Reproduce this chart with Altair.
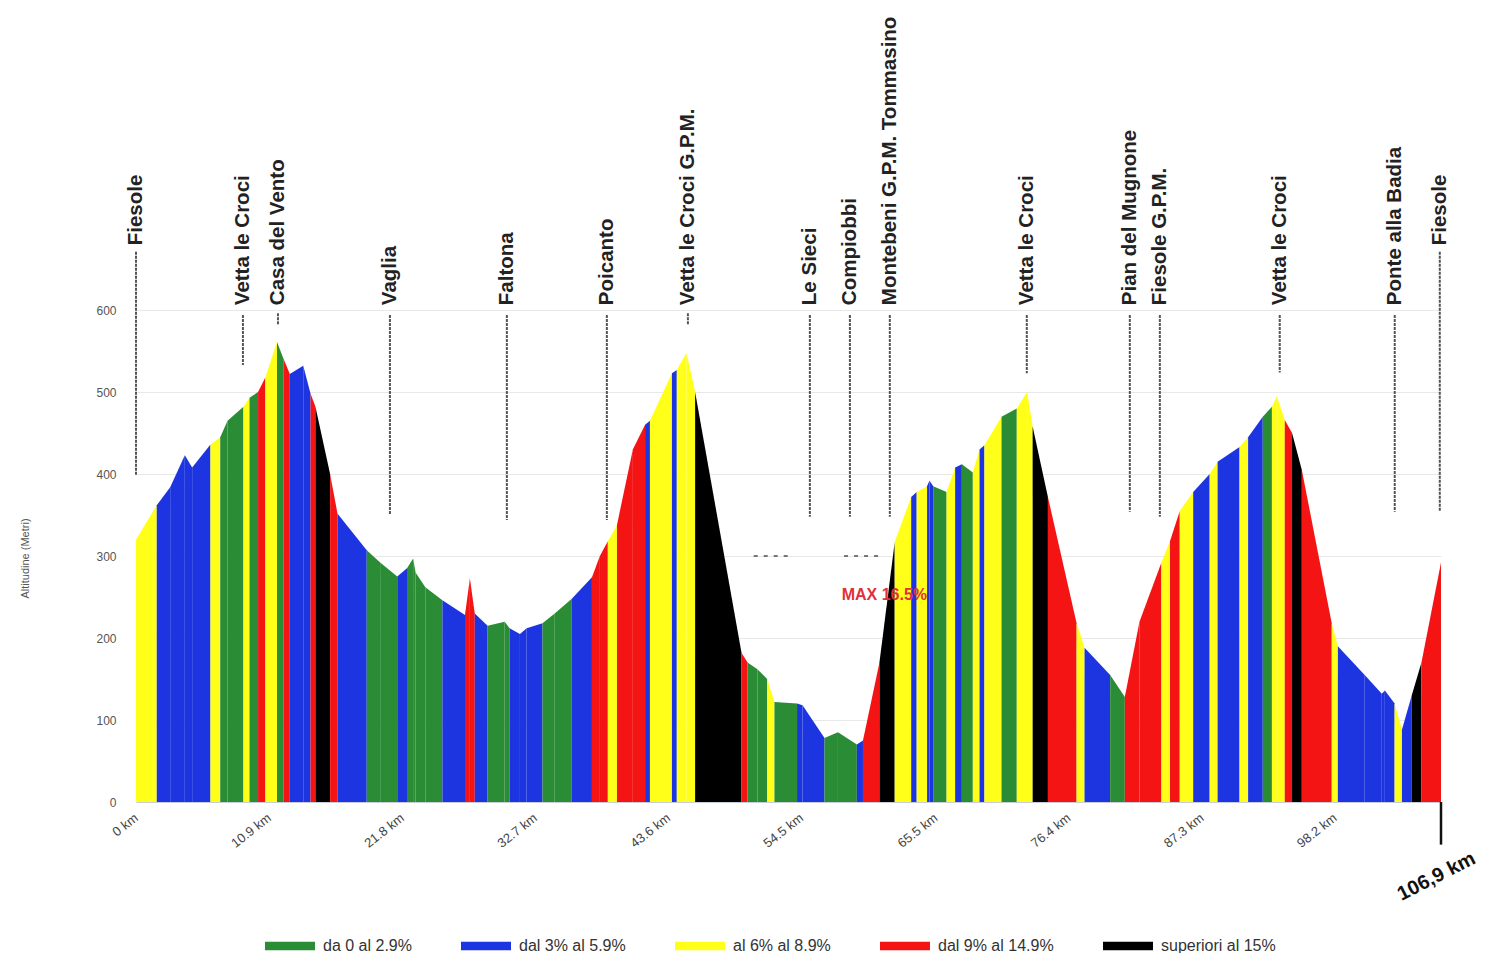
import altair as alt
import pandas as pd

# ---------------- data ----------------
# profile breakpoints (km, altitude m) and gradient class of the stretch that starts there
km = [0.0, 1.7, 2.8, 4.0, 4.6, 6.1, 6.9, 7.5, 8.8, 9.3, 10.0, 10.6, 11.55, 12.1, 12.6, 13.7,
      14.3, 14.7, 15.9, 16.5, 18.9, 20.0, 21.4, 22.2, 22.7, 22.9, 23.7, 25.1, 26.95, 27.35,
      27.75, 28.8, 30.2, 30.6, 31.45, 32.0, 33.3, 34.3, 35.7, 37.35, 38.0, 38.65, 39.4, 40.7,
      41.7, 42.1, 43.9, 44.3, 45.1, 45.8, 49.6, 50.1, 50.9, 51.7, 52.3, 54.15, 54.6, 56.4,
      57.5, 59.05, 59.55, 60.9, 62.15, 63.5, 63.95, 64.8, 65.0, 65.3, 66.4, 67.1, 67.65,
      68.55, 69.1, 69.5, 70.9, 72.15, 73.0, 73.45, 74.7, 77.05, 77.7, 79.8, 81.0, 82.2, 84.0,
      84.7, 85.5, 86.6, 87.95, 88.6, 90.4, 91.1, 92.3, 93.05, 93.45, 94.1, 94.7, 95.5, 97.95,
      98.45, 100.65, 102.05, 102.3, 103.1, 103.7, 104.5, 105.3, 106.9]
altitude = [320, 362, 384, 423, 408, 436, 445, 465, 482, 493, 500, 518, 561, 540, 522, 532,
            498, 482, 400, 352, 307, 292, 275, 285, 297, 280, 262, 246, 228, 273,
            230, 215, 220, 212, 205, 212, 218, 230, 248, 274, 300, 318, 338, 430,
            460, 465, 523, 527, 548, 500, 182, 170, 162, 150, 122, 120, 118, 78,
            85, 70, 75, 170, 317, 372, 378, 385, 392, 385, 378, 408, 412,
            402, 430, 435, 470, 480, 500, 458, 372, 218, 188, 155, 128, 220, 292,
            318, 355, 378, 400, 415, 433, 445, 470, 482, 495, 466, 450, 405, 218,
            190, 155, 132, 136, 120, 88, 130, 170, 292]
grade = ["Y", "B", "B", "B", "B", "Y", "G", "G", "Y", "G", "R", "Y", "G", "R", "B", "B",
         "R", "K", "R", "B", "G", "G", "B", "G", "G", "G", "G", "B", "R", "R",
         "B", "G", "G", "B", "B", "B", "G", "G", "B", "R", "R", "Y", "R", "R",
         "B", "Y", "B", "Y", "Y", "K", "R", "G", "G", "Y", "G", "B", "B", "G",
         "G", "B", "R", "K", "Y", "B", "Y", "B", "B", "G", "Y", "B", "G",
         "Y", "B", "Y", "G", "Y", "Y", "K", "R", "Y", "B", "G", "R", "R", "Y",
         "R", "Y", "B", "Y", "B", "Y", "B", "G", "Y", "Y", "R", "K", "R", "Y",
         "B", "B", "B", "B", "Y", "B", "K", "R"]

grade_codes = ["G", "B", "Y", "R", "K"]
grade_labels = ["da 0 al 2.9%", "dal 3% al 5.9%", "al 6% al 8.9%", "dal 9% al 14.9%", "superiori al 15%"]
grade_colors = ["#2a8c34", "#1c35e0", "#ffff1a", "#f51414", "#000000"]

# places along the route
place_names = ["Fiesole", "Vetta le Croci", "Casa del Vento", "Vaglia", "Faltona", "Poicanto",
               "Vetta le Croci G.P.M.", "Le Sieci", "Compiobbi", "Montebeni G.P.M. Tommasino",
               "Vetta le Croci", "Pian del Mugnone", "Fiesole G.P.M.", "Vetta le Croci",
               "Ponte alla Badia", "Fiesole"]
place_km = [0.0, 8.76, 11.63, 20.8, 30.38, 38.57, 45.21, 55.2, 58.48, 61.75, 72.97, 81.41,
            83.87, 93.69, 103.11, 106.8]
place_text_alt = [679, 606, 606, 606, 606, 606, 606, 606, 606, 606, 606, 606, 606, 606, 606, 679]
place_line_top = [671, 594, 596, 594, 594, 594, 596, 594, 594, 594, 594, 594, 594, 594, 594, 671]
place_line_bottom = [399, 533, 582, 350, 344, 344, 582, 348, 348, 348, 523, 354, 348, 524, 354, 354]

x_tick_values = [0, 10.9, 21.8, 32.7, 43.6, 54.5, 65.5, 76.4, 87.3, 98.2]
y_tick_values = [0, 100, 200, 300, 400, 500, 600]

total_km = [106.9]
total_label = ["106,9 km"]
max_label = ["MAX 16.5%"]
max_km = [61.3]
max_alt = [252]
dash_start = [50.6, 58.0]
dash_end = [53.6, 61.0]
dash_alt = [300, 300]

# ---------------- tables ----------------
rows = []
for i, g in enumerate(grade):
    lab = grade_labels[grade_codes.index(g)]
    rows.append({"seg": i, "km": km[i], "alt": altitude[i], "classe": lab})
    rows.append({"seg": i, "km": km[i + 1], "alt": altitude[i + 1], "classe": lab})
profile = pd.DataFrame(rows)

places = pd.DataFrame({"name": place_names, "km": place_km, "talt": place_text_alt,
                       "ltop": place_line_top, "lbot": place_line_bottom})
total = pd.DataFrame({"km": total_km, "label": total_label, "y0": [0], "y1": [-52], "ty": [-88]})
maxdf = pd.DataFrame({"km": max_km, "alt": max_alt, "label": max_label})
dashdf = pd.DataFrame({"x0": dash_start, "x1": dash_end, "alt": dash_alt})

FONT = "Liberation Sans"
xscale = alt.Scale(domain=[0, 106.9], nice=False, zero=False)
yscale = alt.Scale(domain=[0, 966], nice=False)

area = alt.Chart(profile).mark_area(interpolate="linear").encode(
    x=alt.X("km:Q", scale=xscale, title=None,
            axis=alt.Axis(values=x_tick_values, format=".1~f", labelExpr="datum.label + ' km'",
                          labelAngle=322, labelAlign="right", labelBaseline="middle",
                          labelPadding=14, labelFontSize=13, labelColor="#444", labelFont=FONT,
                          ticks=False, grid=False, domainColor="#c8ccd8", labelOverlap=False)),
    y=alt.Y("alt:Q", scale=yscale, stack=None, title="Altitudine (Metri)",
            axis=alt.Axis(values=y_tick_values, ticks=False, domain=False, grid=True,
                          gridColor="#e8e8e8", labelPadding=20, labelFontSize=12,
                          labelColor="#555", labelFont=FONT, titleFont=FONT,
                          titleFontSize=11, titleFontWeight="normal", titleColor="#555",
                          titleX=-111, titleY=548, titleAngle=270, titleAlign="center",
                          titleBaseline="middle")),
    color=alt.Color("classe:N", scale=alt.Scale(domain=grade_labels, range=grade_colors),
                    legend=alt.Legend(orient="none", legendX=129, legendY=911,
                                      direction="horizontal", columns=5, title=None,
                                      symbolType="M-1,-0.17L1,-0.17L1,0.17L-1,0.17Z",
                                      symbolSize=2500, symbolStrokeWidth=0, symbolOpacity=1,
                                      labelFontSize=16, labelColor="#333", labelFont=FONT,
                                      labelOffset=8, columnPadding=49, labelLimit=300)),
    detail="seg:N",
)

lines = alt.Chart(places).mark_rule(color="#555", strokeWidth=2, strokeDash=[3, 1]).encode(
    x="km:Q", y="ltop:Q", y2="lbot:Q")

texts = alt.Chart(places).mark_text(angle=270, align="left", baseline="middle", fontSize=20.5,
                                    fontWeight="bold", font=FONT, color="#222").encode(
    x="km:Q", y="talt:Q", text="name:N")

total_rule = alt.Chart(total).mark_rule(color="#111", strokeWidth=2.5).encode(
    x="km:Q", y="y0:Q", y2="y1:Q")
total_text = alt.Chart(total).mark_text(angle=333, align="center", baseline="middle",
                                        fontSize=20, fontWeight="bold", font=FONT,
                                        color="#111", dx=-5).encode(
    x="km:Q", y="ty:Q", text="label:N")

max_text = alt.Chart(maxdf).mark_text(fontSize=16, fontWeight="bold", font=FONT,
                                      color="#e0303a", align="center").encode(
    x="km:Q", y="alt:Q", text="label:N")

dash = alt.Chart(dashdf).mark_rule(color="#777", strokeWidth=2, strokeDash=[4, 6]).encode(
    x="x0:Q", x2="x1:Q", y="alt:Q")

chart = alt.layer(dash, area, lines, texts, max_text, total_rule, total_text).properties(
    width=1305, height=792,
    autosize=alt.AutoSizeParams(type="none"),
    padding={"left": 128, "top": 2, "right": 43, "bottom": 151},
    background="white",
).configure_view(stroke=None)

chart.save("out.html", embed_options={"renderer": "svg", "actions": False})
